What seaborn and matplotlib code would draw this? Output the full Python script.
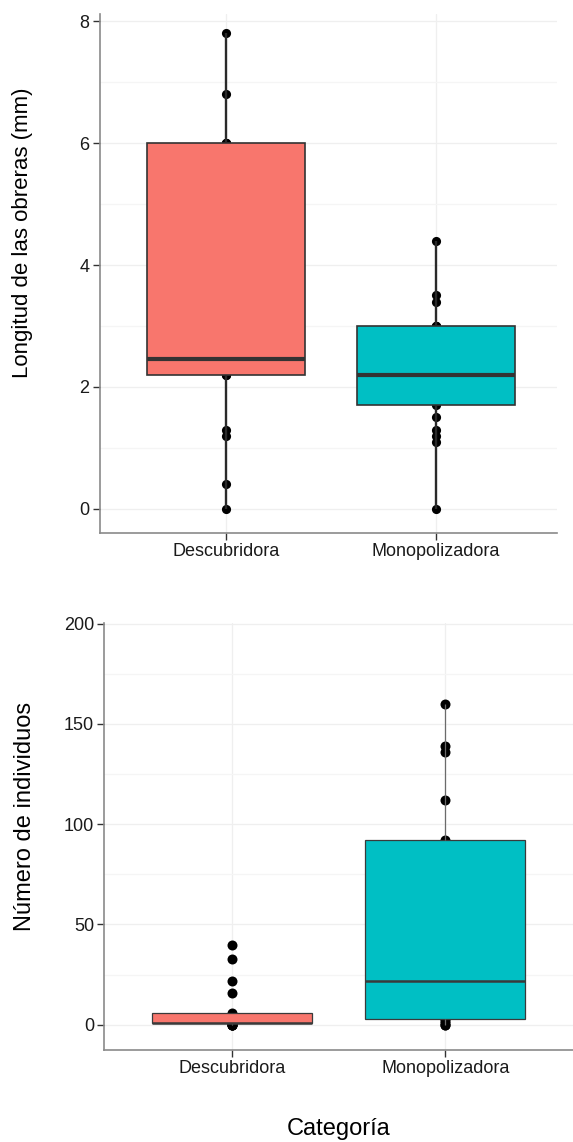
import numpy as np
import pandas as pd
import matplotlib
matplotlib.use('Agg')
import matplotlib.pyplot as plt
import seaborn as sns

# ---- data ----
categories = ['Descubridora', 'Monopolizadora']
colors = ['#F8766D', '#00BFC4']

# Longitud de las obreras (mm)
long_desc = [0.0, 0.4, 1.2, 1.3, 2.2, 2.2, 2.3, 2.4, 2.45, 2.5, 3.0, 4.5, 6.0, 6.0, 6.0, 6.8, 7.8]
long_mono = [0.0, 1.1, 1.2, 1.3, 1.5, 1.7, 1.8, 1.9, 2.0, 2.1, 2.2, 2.4, 2.5, 2.7, 2.8,
             3.0, 3.0, 3.0, 3.4, 3.5, 4.4]

# Número de individuos
ind_desc = [0, 0, 0, 0, 1, 1, 1, 1, 1, 2, 3, 5, 6, 16, 22, 33, 40]
ind_mono = [0, 0, 1, 2, 3, 5, 10, 15, 22, 40, 60, 80, 92, 112, 136, 139, 160]

y1_ticks = [0, 2, 4, 6, 8]
y1_minor = [1, 3, 5, 7]
y2_ticks = [0, 50, 100, 150, 200]
y2_minor = [25, 75, 125, 175]

sns.set_style('white')
plt.rcParams['font.family'] = ['Liberation Sans', 'DejaVu Sans']

fig = plt.figure(figsize=(5.73, 11.42), dpi=100)
ax1 = fig.add_axes([99.6 / 573, 1 - 532.7 / 1142, (557 - 99.6) / 573, (532.7 - 14) / 1142])
ax2 = fig.add_axes([104.4 / 573, 1 - 1050 / 1142, (573 - 104.4) / 573, (1050 - 623) / 1142])


def make_df(a, b):
    return pd.DataFrame({'cat': [categories[0]] * len(a) + [categories[1]] * len(b),
                         'val': list(a) + list(b)})


def draw(ax, df, pt_size, box_lw, med_lw, wh_lw, wh_color, edge):
    sns.stripplot(data=df, x='cat', y='val', order=categories, jitter=False,
                  color='black', size=pt_size, linewidth=0, zorder=2, ax=ax)
    sns.boxplot(data=df, x='cat', y='val', hue='cat', order=categories,
                hue_order=categories, palette=colors, saturation=1, width=0.75,
                whis=1.5, showcaps=False, showfliers=False, linecolor=edge,
                linewidth=box_lw,
                boxprops=dict(zorder=3, edgecolor=edge, linewidth=box_lw),
                medianprops=dict(linewidth=med_lw, color=edge, zorder=4),
                whiskerprops=dict(linewidth=wh_lw, color=wh_color, zorder=3),
                legend=False, ax=ax)


def style(ax, ticks, minor):
    ax.set_xlabel('')
    ax.set_ylabel('')
    ax.set_yticks(ticks)
    ax.set_yticks(minor, minor=True)
    ax.set_axisbelow(True)
    ax.grid(True, which='major', color='#efefef', linewidth=0.9)
    ax.grid(True, which='minor', axis='y', color='#f5f5f5', linewidth=0.9)
    for s in ['top', 'right']:
        ax.spines[s].set_visible(False)
    for s in ['left', 'bottom']:
        ax.spines[s].set_color('#8a8a8a')
        ax.spines[s].set_linewidth(1.2)
    ax.tick_params(which='major', length=5, width=1.0, color='#333333',
                   labelsize=13, labelcolor='#1a1a1a', pad=2.5, left=True, bottom=True)
    ax.tick_params(which='minor', length=0)


draw(ax1, make_df(long_desc, long_mono), pt_size=6.6, box_lw=1.2, med_lw=3.0,
     wh_lw=1.7, wh_color='#2a2a2a', edge='#333333')
draw(ax2, make_df(ind_desc, ind_mono), pt_size=7.2, box_lw=0.9, med_lw=1.8,
     wh_lw=0.9, wh_color='#6b6b6b', edge='#3a3a3a')

style(ax1, y1_ticks, y1_minor)
style(ax2, y2_ticks, y2_minor)
ax1.set_xlim(-0.6, 1.575)
ax1.set_ylim(-0.393, 8.12)
ax2.set_xlim(-0.6, 1.6)
ax2.set_ylim(-12.6, 200.3)

fig.text(23 / 573, 1 - 233 / 1142, 'Longitud de las obreras (mm)', rotation=90,
         ha='center', va='center', fontsize=16, color='black')
fig.text(25 / 573, 1 - 816 / 1142, 'Número de individuos', rotation=90,
         ha='center', va='center', fontsize=17, color='black')
fig.text(339 / 573, 1 - 1129 / 1142, 'Categoría', ha='center', va='center',
         fontsize=17, color='black')

fig.savefig('out.png', dpi=100)
